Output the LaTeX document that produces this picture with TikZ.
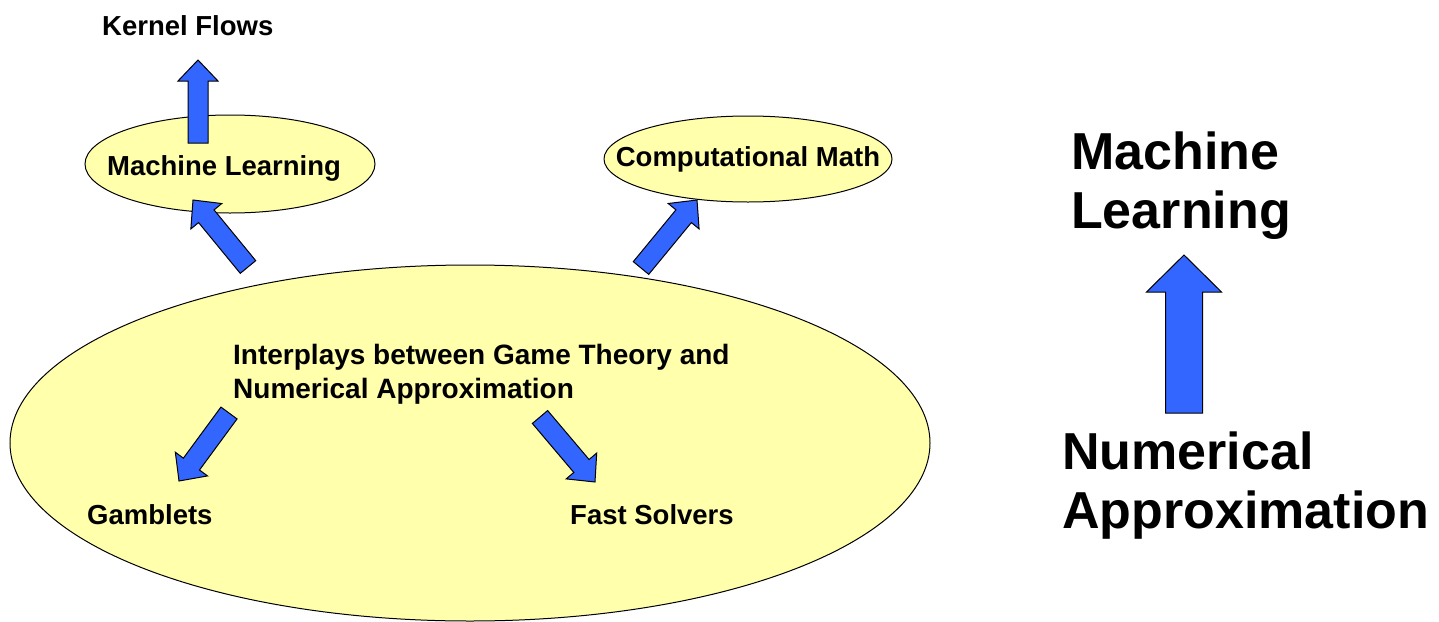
\documentclass[tikz,border=0pt]{standalone}
\usepackage{fontspec}
\setmainfont{Liberation Sans}
\usetikzlibrary{shapes.geometric,calc}
\definecolor{myyellow}{RGB}{255,255,172}
\definecolor{myblue}{RGB}{51,102,255}
% fat arrow: tail, tip, half shaft, half head, head length
\newcommand{\blockarrow}[5]{%
  \coordinate (ba-h) at ($(#2)!#5!(#1)$);
  \filldraw[arrowfill] ($(#1)!#3!90:(#2)$) -- ($(ba-h)!#3!90:(#2)$) -- ($(ba-h)!#4!90:(#2)$)
    -- (#2) -- ($(ba-h)!#4!-90:(#2)$) -- ($(ba-h)!#3!-90:(#2)$) -- ($(#1)!#3!-90:(#2)$) -- cycle;}

\begin{document}
\begin{tikzpicture}[x=1pt,y=-1pt,
  blob/.style={ellipse,draw=black,line width=1pt,fill=myyellow,inner sep=0pt},
  lbl/.style={font=\fontsize{27.5}{33}\selectfont\bfseries,inner sep=0pt,text depth=0pt},
  big/.style={font=\fontsize{52}{59}\selectfont\bfseries,inner sep=0pt,align=left,anchor=north west},
  arrowfill/.style={fill=myblue,draw=black,line width=1pt,line join=miter}]
  \useasboundingbox (0,0) rectangle (1439,621);
  % ellipses
  \node[blob,minimum width=920pt,minimum height=356pt] (game) at (470,443) {};
  \node[blob,minimum width=290pt,minimum height=98pt,
    label={[lbl,xshift=-6pt,yshift=-2pt]center:Machine Learning}] (ml) at (230,164) {};
  \node[blob,minimum width=288pt,minimum height=86pt,
    label={[lbl,yshift=2pt]center:Computational Math}] (cm) at (748,159) {};
  % texts
  \node[lbl,anchor=base west] (kernel) at (102,35) {Kernel Flows};
  \node[lbl,anchor=north west,align=left,font=\fontsize{28}{34}\selectfont\bfseries] (interplay) at (233,344)
    {Interplays between Game Theory and\\Numerical Approximation};
  \node[lbl,anchor=base west] (gamblets) at (87,524) {Gamblets};
  \node[lbl,anchor=base west] (solvers) at (570,524) {Fast Solvers};
  \node[big] (mltitle) at (1071,132) {Machine\\Learning};
  \node[big] (natitle) at (1062,432) {Numerical\\Approximation};
  % arrows
  \coordinate (kf-tail) at (198,143); \coordinate (kf-tip) at (198,60);
  \coordinate (ml-tail) at (248,267); \coordinate (ml-tip) at (193,200);
  \coordinate (cm-tail) at (641,268); \coordinate (cm-tip) at (697,200);
  \coordinate (gb-tail) at (229,413); \coordinate (gb-tip) at (179,481);
  \coordinate (fs-tail) at (540,417); \coordinate (fs-tip) at (595,482);
  \coordinate (na-tail) at (1184,413); \coordinate (na-tip) at (1184,255);
  \foreach \a in {kf,ml,cm,gb,fs}
    \blockarrow{\a-tail}{\a-tip}{10pt}{20pt}{21pt};
  \blockarrow{na-tail}{na-tip}{18.5pt}{37.5pt}{37pt}
\end{tikzpicture}
\end{document}
